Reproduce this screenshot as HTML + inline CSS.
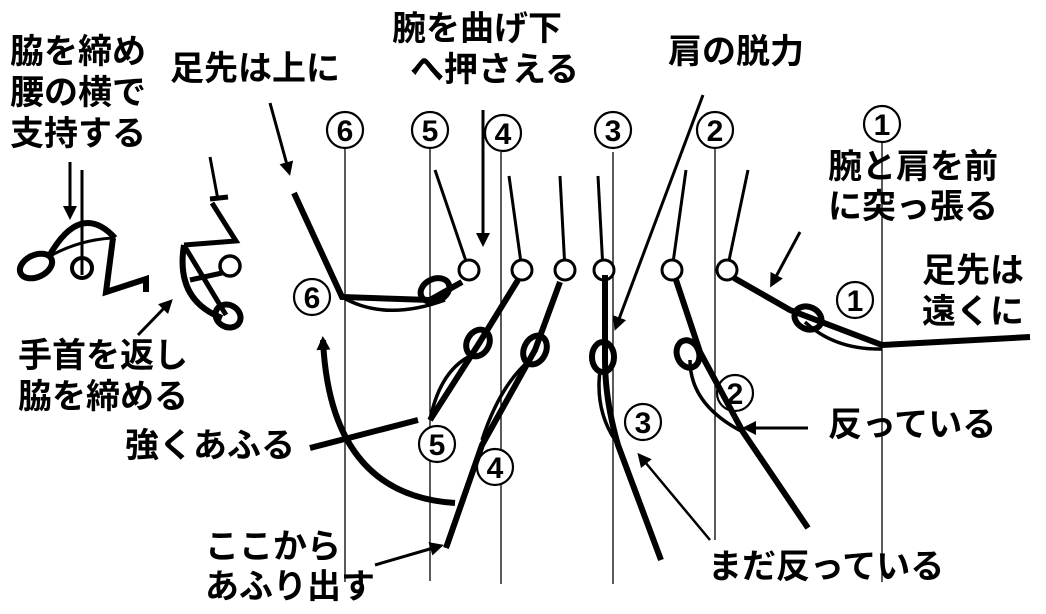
<!DOCTYPE html>
<html><head><meta charset="utf-8"><style>
html,body{margin:0;padding:0;background:#fff;}
svg{display:block;}
text{font-family:"Liberation Sans","Noto Sans CJK JP",sans-serif;font-weight:bold;fill:#000;}
</style></head><body>
<svg width="1046" height="614" viewBox="0 0 1046 614" xmlns="http://www.w3.org/2000/svg">
<defs>
<marker id="ahb" markerWidth="16" markerHeight="16" refX="10" refY="8" orient="auto" markerUnits="userSpaceOnUse" viewBox="0 0 16 16"><path d="M0,1 L14,8 L0,15 z" fill="#000"/></marker>
</defs>
<g stroke="#000" stroke-width="1.3">
<line x1="345" y1="148" x2="345" y2="582"/>
<line x1="430" y1="148" x2="430" y2="581"/>
<line x1="501" y1="152" x2="501" y2="584"/>
<line x1="613" y1="152" x2="613" y2="584"/>
<line x1="715" y1="148" x2="715" y2="540"/>
<line x1="882" y1="142" x2="882" y2="582"/>
</g>
<g fill="#fff" stroke="#000" stroke-width="2.2">
<circle cx="345" cy="130" r="18"/>
<circle cx="430" cy="130" r="18"/>
<circle cx="503" cy="133" r="18"/>
<circle cx="613" cy="130" r="18"/>
<circle cx="715" cy="130" r="18"/>
<circle cx="882" cy="124" r="18"/>
<circle cx="312" cy="297" r="18"/>
<circle cx="437" cy="444" r="18"/>
<circle cx="495" cy="467" r="18"/>
<circle cx="643" cy="422" r="18"/>
<circle cx="735" cy="393" r="18"/>
<circle cx="855" cy="300" r="18"/>
</g>
<g font-size="30" text-anchor="middle">
<text x="345" y="141">6</text>
<text x="430" y="141">5</text>
<text x="503" y="144">4</text>
<text x="613" y="141">3</text>
<text x="715" y="141">2</text>
<text x="882" y="135">1</text>
<text x="312" y="308">6</text>
<text x="437" y="455">5</text>
<text x="495" y="478">4</text>
<text x="643" y="433">3</text>
<text x="735" y="404">2</text>
<text x="855" y="311">1</text>
</g>
<g font-size="34">
<text x="10" y="63">脇を締め</text>
<text x="10" y="104">腰の横で</text>
<text x="10" y="145">支持する</text>
<text x="170" y="80">足先は上に</text>
<text x="392" y="40">腕を曲げ下</text>
<text x="410" y="81">へ押さえる</text>
<text x="668" y="63">肩の脱力</text>
<text x="828" y="178">腕と肩を前</text>
<text x="828" y="218">に突っ張る</text>
<text x="922" y="282">足先は</text>
<text x="922" y="323">遠くに</text>
<text x="18" y="367">手首を返し</text>
<text x="18" y="408">脇を締める</text>
<text x="125" y="457">強くあふる</text>
<text x="828" y="436">反っている</text>
<text x="205" y="558">ここから</text>
<text x="205" y="598">あふり出す</text>
<text x="708" y="578">まだ反っている</text>
</g>
<g fill="none" stroke="#000" stroke-linecap="butt">
<line x1="727" y1="270" x2="748" y2="170" stroke-width="3"/>
<circle cx="727" cy="270" r="10" stroke-width="3" fill="#fff"/>
<path d="M734,278 L790,310 L882,345 L1030,337" stroke-width="6"/>
<path d="M805,322 Q835,350 882,349" stroke-width="3.5"/>
<ellipse cx="808" cy="318" rx="14" ry="11" stroke-width="6" transform="rotate(25 808 318)"/>
<line x1="672" y1="270" x2="686" y2="170" stroke-width="3"/>
<circle cx="672" cy="270" r="10" stroke-width="3" fill="#fff"/>
<path d="M676,280 L700,352 L743,432 L808,528" stroke-width="6"/>
<path d="M690,360 Q690,405 743,432" stroke-width="3.5"/>
<ellipse cx="688" cy="354" rx="11" ry="14" stroke-width="6" transform="rotate(-20 688 354)"/>
<line x1="603" y1="270" x2="598" y2="176" stroke-width="3"/>
<circle cx="604" cy="270" r="10" stroke-width="3" fill="#fff"/>
<path d="M605,275 L605,360 Q605,400 618,445 L661,560" stroke-width="6"/>
<path d="M600,370 Q595,410 615,440" stroke-width="3.5"/>
<ellipse cx="603" cy="357" rx="11" ry="15" stroke-width="6"/>
<line x1="565" y1="270" x2="560" y2="176" stroke-width="3"/>
<circle cx="565" cy="270" r="10" stroke-width="3" fill="#fff"/>
<path d="M560,282 L535,350 L482,445 L446,548" stroke-width="6"/>
<path d="M530,360 Q500,385 482,440" stroke-width="3.5"/>
<ellipse cx="535" cy="350" rx="11" ry="15" stroke-width="6" transform="rotate(25 535 350)"/>
<line x1="522" y1="270" x2="509" y2="176" stroke-width="3"/>
<circle cx="522" cy="270" r="10" stroke-width="3" fill="#fff"/>
<path d="M518,280 L478,345 L430,420" stroke-width="6"/>
<path d="M472,355 Q440,370 430,420" stroke-width="3.5"/>
<path d="M310,448 L418,420" stroke-width="6"/>
<ellipse cx="478" cy="343" rx="11" ry="14" stroke-width="6" transform="rotate(30 478 343)"/>
<line x1="469" y1="270" x2="435" y2="170" stroke-width="3"/>
<circle cx="469" cy="270" r="10" stroke-width="3" fill="#fff"/>
<path d="M294,193 L342,297 L430,300 L462,282" stroke-width="6"/>
<path d="M342,297 Q385,322 445,300" stroke-width="3.5"/>
<ellipse cx="435" cy="290" rx="15" ry="11" stroke-width="6" transform="rotate(-25 435 290)"/>
<path d="M455,503 Q330,495 323,340" stroke-width="6" marker-end="url(#ahb)"/>
<path d="M270,103 L289,172" stroke-width="3" marker-end="url(#ahb)"/>
<path d="M483,110 L483,243" stroke-width="3" marker-end="url(#ahb)"/>
<path d="M703,95 L616,327" stroke-width="3" marker-end="url(#ahb)"/>
<path d="M800,232 L772,284" stroke-width="3" marker-end="url(#ahb)"/>
<path d="M808,428 L746,428" stroke-width="3" marker-end="url(#ahb)"/>
<path d="M710,540 L640,456" stroke-width="2.5" marker-end="url(#ahb)"/>
<path d="M375,565 L440,546" stroke-width="3" marker-end="url(#ahb)"/>
<path d="M138,335 L170,302" stroke-width="3" marker-end="url(#ahb)"/>
<path d="M70,162 L70,216" stroke-width="3" marker-end="url(#ahb)"/>
<line x1="82" y1="170" x2="82" y2="275" stroke-width="3"/>
<ellipse cx="36" cy="266" rx="17" ry="11" stroke-width="6" transform="rotate(-25 36 266)"/>
<path d="M48,258 Q80,200 115,238" stroke-width="6"/>
<path d="M52,255 Q80,240 112,238" stroke-width="3"/>
<circle cx="82" cy="268" r="10" stroke-width="4"/>
<path d="M113,238 L106,292 L146,279 L146,292" stroke-width="6"/>
<line x1="210" y1="157" x2="218" y2="200" stroke-width="3"/>
<line x1="210" y1="199" x2="228" y2="197" stroke-width="5"/>
<path d="M212,203 L236,241 L184,245" stroke-width="5"/>
<path d="M184,245 Q175,300 222,318" stroke-width="6"/>
<line x1="185" y1="247" x2="226" y2="315" stroke-width="5"/>
<path d="M190,280 L222,273" stroke-width="5"/>
<circle cx="230" cy="266" r="10" stroke-width="3.5" fill="#fff"/>
<ellipse cx="228" cy="316" rx="13" ry="11" stroke-width="6" transform="rotate(30 228 316)"/>
</g>
</svg>
</body></html>
